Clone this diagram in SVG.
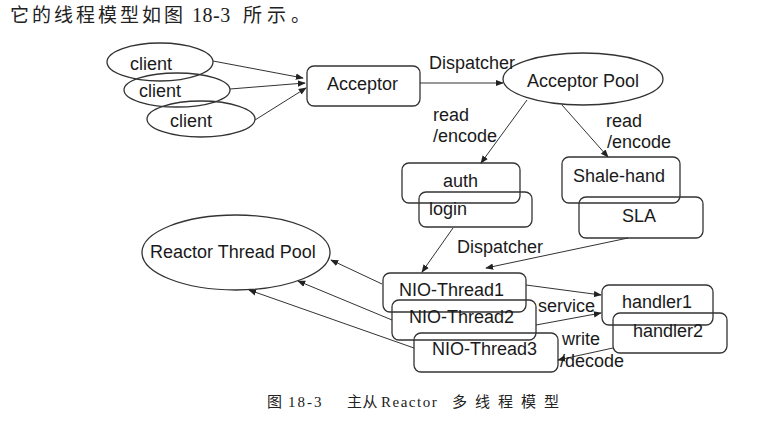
<svg xmlns="http://www.w3.org/2000/svg" width="778" height="425" viewBox="0 0 778 425">
<defs>
<marker id="ah" viewBox="0 0 10 10" refX="9" refY="5" markerWidth="8" markerHeight="8" markerUnits="userSpaceOnUse" orient="auto">
<path d="M0,1 L10,5 L0,9 Z" fill="#222"/>
</marker>
</defs>
<style>
.n{fill:none;stroke:#333;stroke-width:1.3}
.t{font-family:"Liberation Sans",Arial,sans-serif;font-size:18px;fill:#1a1a1a}
.l{font-family:"Liberation Sans",Arial,sans-serif;font-size:18px;fill:#1a1a1a}
.c{stroke:#333;stroke-width:1;fill:none;marker-end:url(#ah)}
.cap{font-family:"Liberation Serif","Noto Sans CJK SC",serif;fill:#222}
</style>
<rect width="778" height="425" fill="#fff"/>
<text class="cap" y="22" font-size="19"><tspan x="10" letter-spacing="3" font-family="Noto Sans CJK SC, sans-serif">它的线程模型如图</tspan><tspan x="192" font-size="20" letter-spacing="0.5" font-family="Liberation Serif, serif">18-3</tspan><tspan x="243" letter-spacing="5" font-family="Noto Sans CJK SC, sans-serif">所示。</tspan></text>

<g id="client1"><ellipse class="n" cx="160" cy="62" rx="53" ry="19"/><text class="t" x="130" y="70">client</text></g>
<g id="client2"><ellipse class="n" cx="177" cy="90" rx="53" ry="17"/><text class="t" x="139" y="97">client</text></g>
<g id="client3"><ellipse class="n" cx="201" cy="119" rx="54" ry="18"/><text class="t" x="170" y="127">client</text></g>
<g id="acceptor"><rect class="n" x="307" y="66" width="113" height="40" rx="7"/><text class="t" x="327" y="90">Acceptor</text></g>
<g id="acceptor-pool"><ellipse class="n" cx="583" cy="79" rx="80" ry="26"/><text class="t" x="583" y="87" text-anchor="middle">Acceptor Pool</text></g>
<g id="auth"><rect class="n" x="402" y="163" width="118" height="40" rx="7"/><text class="t" x="443" y="187">auth</text></g>
<g id="login"><rect class="n" x="419" y="192" width="113" height="35" rx="7"/><text class="t" x="429" y="215">login</text></g>
<g id="shale-hand"><rect class="n" x="562" y="157" width="118" height="46" rx="7"/><text class="t" x="573" y="182">Shale-hand</text></g>
<g id="sla"><rect class="n" x="579" y="197" width="124" height="41" rx="7"/><text class="t" x="622" y="222">SLA</text></g>
<g id="reactor-pool"><ellipse class="n" cx="236" cy="252.5" rx="94" ry="37.5"/><text class="t" x="150" y="258">Reactor Thread Pool</text></g>
<g id="nio1"><rect class="n" x="383" y="273" width="143" height="39" rx="7"/><text class="t" x="399" y="296">NIO-Thread1</text></g>
<g id="nio2"><rect class="n" x="392" y="300" width="144" height="40" rx="7"/><text class="t" x="409" y="323">NIO-Thread2</text></g>
<g id="nio3"><rect class="n" x="414" y="333" width="144" height="39" rx="7"/><text class="t" x="432" y="355">NIO-Thread3</text></g>
<g id="handler1"><rect class="n" x="602" y="285" width="111" height="40" rx="7"/><text class="t" x="622" y="308">handler1</text></g>
<g id="handler2"><rect class="n" x="613" y="313" width="114" height="40" rx="7"/><text class="t" x="633" y="337">handler2</text></g>

<g id="connectors">
<line class="c" x1="213" y1="61" x2="303" y2="78"/>
<line class="c" x1="230" y1="89" x2="305" y2="83"/>
<line class="c" x1="255" y1="120" x2="306" y2="88"/>
<line class="c" x1="420" y1="83" x2="503" y2="83"/>
<line class="c" x1="527" y1="100" x2="481" y2="163"/>
<line class="c" x1="562" y1="105" x2="608" y2="157"/>
<line class="c" x1="453" y1="228" x2="422" y2="272"/>
<line class="c" x1="628" y1="238" x2="486" y2="268"/>
<line class="c" x1="382" y1="284" x2="331" y2="260"/>
<line class="c" x1="392" y1="320" x2="298" y2="281"/>
<line class="c" x1="414" y1="348" x2="249" y2="290"/>
<line class="c" x1="526" y1="285" x2="601" y2="295"/>
<line class="c" x1="536" y1="325" x2="601" y2="313"/>
<line class="c" x1="613" y1="348" x2="558" y2="360"/>
<text class="l" x="429" y="69">Dispatcher</text>
<text class="l" x="433" y="121">read</text>
<text class="l" x="433" y="142">/encode</text>
<text class="l" x="606" y="127">read</text>
<text class="l" x="607" y="148">/encode</text>
<text class="l" x="457" y="253">Dispatcher</text>
<text class="l" x="538" y="312">service</text>
<text class="l" x="562" y="345">write</text>
<text class="l" x="560" y="367">/decode</text>
</g>

<text class="cap" y="407" font-size="15"><tspan x="267" font-family="Noto Sans CJK SC, sans-serif">图</tspan><tspan x="288" letter-spacing="2">18-3</tspan><tspan x="347" letter-spacing="0.5" font-family="Noto Sans CJK SC, sans-serif">主从</tspan><tspan x="381" letter-spacing="1.5">Reactor</tspan><tspan x="452" letter-spacing="8" font-family="Noto Sans CJK SC, sans-serif">多线程模型</tspan></text>
</svg>
